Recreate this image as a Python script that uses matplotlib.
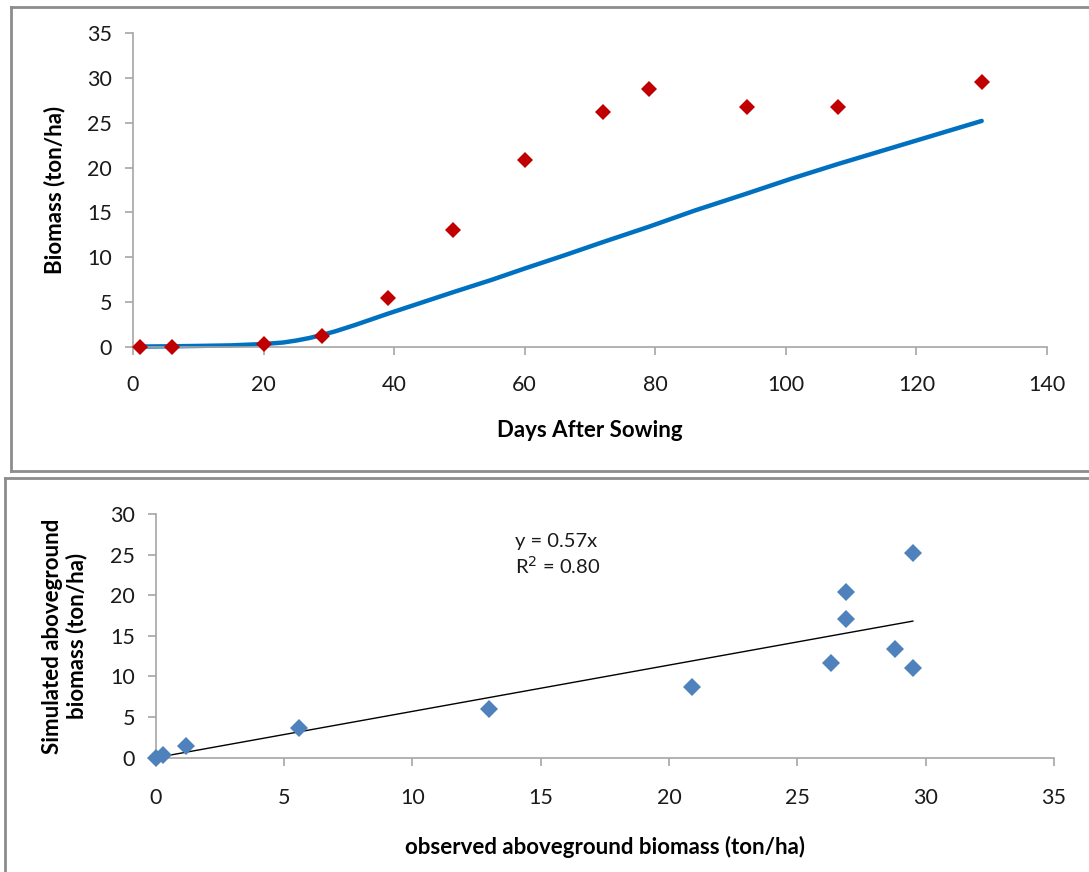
import matplotlib
matplotlib.use('Agg')

import numpy as np
import matplotlib.pyplot as plt
from matplotlib.lines import Line2D

plt.rcParams['font.family'] = ['Lato', 'DejaVu Sans']

# --- top panel: biomass over time ---
obs_days = [1, 6, 20, 29, 39, 49, 60, 72, 79, 94, 108, 130]
obs_biomass = [0.0, 0.05, 0.3, 1.2, 5.5, 13.0, 20.8, 26.2, 28.8, 26.8, 26.8, 29.5]

sim_days = [1, 6, 10, 15, 20, 23, 25, 27, 29, 31, 34, 39, 44, 49, 55, 60, 66,
            72, 79, 86, 94, 101, 108, 119, 130]
sim_biomass = [0.05, 0.08, 0.12, 0.18, 0.33, 0.5, 0.72, 1.0, 1.35, 1.75, 2.45,
               3.7, 4.9, 6.1, 7.5, 8.75, 10.2, 11.7, 13.4, 15.2, 17.1, 18.8,
               20.4, 22.8, 25.2]

# --- bottom panel: observed vs simulated ---
scat_obs = [0.0, 0.3, 1.2, 5.6, 13.0, 20.9, 26.3, 26.9, 26.9, 28.8, 29.5, 29.5]
scat_sim = [0.0, 0.3, 1.5, 3.6, 6.0, 8.7, 11.7, 17.1, 20.4, 13.4, 11.0, 25.2]
fit_slope = 0.57
fit_r2 = 0.80

RED = '#C00000'
LINE_BLUE = '#0070C0'
PT_BLUE = '#4F81BD'
AX_GREY = '#A6A6A6'
FRAME_GREY = '#8C8C8C'
TICK_FS = 15.5
LABEL_FS = 16


def style_axes(ax):
    for side in ('top', 'right'):
        ax.spines[side].set_visible(False)
    for side in ('left', 'bottom'):
        ax.spines[side].set_color(AX_GREY)
        ax.spines[side].set_linewidth(1.2)
    ax.tick_params(direction='out', length=6, width=1.2, color=AX_GREY,
                   labelsize=TICK_FS, labelcolor='#1a1a1a', pad=9)


fig = plt.figure(figsize=(10.89, 8.72), dpi=100)

# panel frames
W, H = 1089, 872
def fx(px): return px / W
def fy(py): return 1 - py / H

for xs, ys in [
    ([fx(11), 1.01], [fy(7), fy(7)]),
    ([fx(11), 1.01], [fy(471), fy(471)]),
    ([fx(11), fx(11)], [fy(7), fy(471)]),
    ([fx(5), 1.01], [fy(478), fy(478)]),
    ([fx(5), fx(5)], [fy(478), -0.01]),
]:
    fig.add_artist(Line2D(xs, ys, color=FRAME_GREY, lw=2.0,
                          transform=fig.transFigure, clip_on=False))

# top chart
ax1 = fig.add_axes([fx(133), fy(347), fx(1047) - fx(133), fy(33) - fy(347)])
ax1.plot(sim_days, sim_biomass, color=LINE_BLUE, lw=3.2, zorder=2,
         solid_capstyle='round', solid_joinstyle='round')
ax1.plot(obs_days, obs_biomass, 'D', color=RED, markersize=8, zorder=3,
         markeredgewidth=0)
ax1.set_xlim(0, 140)
ax1.set_ylim(0, 35)
ax1.set_xticks(np.arange(0, 141, 20))
ax1.set_yticks(np.arange(0, 36, 5))
style_axes(ax1)
ax1.tick_params(axis='x', pad=14)
ax1.set_xlabel('Days After Sowing', fontsize=LABEL_FS, fontweight='bold',
               labelpad=18)
ax1.set_ylabel('Biomass (ton/ha)', fontsize=LABEL_FS, fontweight='bold',
               labelpad=16)
for m in ax1.lines:
    m.set_clip_on(False)

# bottom chart
ax2 = fig.add_axes([fx(155.7), fy(757.7), fx(1054) - fx(155.7),
                    fy(514) - fy(757.7)])
ax2.plot(scat_obs, scat_sim, 'D', color=PT_BLUE, markersize=9, zorder=3,
         markeredgewidth=0, clip_on=False)
fit_x = np.array([0.0, max(scat_obs)])
ax2.plot(fit_x, fit_slope * fit_x, color='black', lw=1.0, zorder=2)
ax2.set_xlim(0, 35)
ax2.set_ylim(0, 30)
ax2.set_xticks(np.arange(0, 36, 5))
ax2.set_yticks(np.arange(0, 31, 5))
style_axes(ax2)
ax2.tick_params(axis='x', pad=16)
ax2.set_xlabel('observed aboveground biomass (ton/ha)', fontsize=LABEL_FS,
               fontweight='bold', labelpad=20)
ax2.set_ylabel('Simulated aboveground\nbiomass (ton/ha)', fontsize=LABEL_FS,
               fontweight='bold', labelpad=16, linespacing=1.2)
ax2.text(14.0, 25.0, f'y = {fit_slope:.2f}x\nR$^2$ = {fit_r2:.2f}',
         fontsize=14.5, color='#1a1a1a', va='center', ha='left',
         linespacing=1.25)

fig.savefig('out.png', dpi=100, facecolor='white')
